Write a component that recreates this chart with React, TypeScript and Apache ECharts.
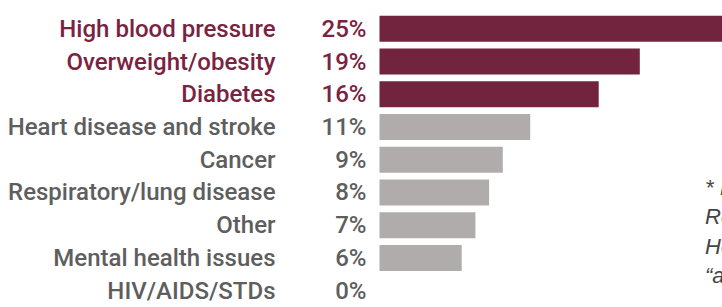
import React, { useEffect, useRef } from "react";
import * as echarts from "echarts";

const categories = [
  "High blood pressure",
  "Overweight/obesity",
  "Diabetes",
  "Heart disease and stroke",
  "Cancer",
  "Respiratory/lung disease",
  "Other",
  "Mental health issues",
  "HIV/AIDS/STDs",
];
const values = [25, 19, 16, 11, 9, 8, 7, 6, 0];
const highlightCount = 3;
const footnoteLines = ["* Includes", "Respondents", "Health", "\u201call"];

const MAROON_BAR = "#72233d";
const MAROON_TEXT = "#7a2341";
const GRAY_BAR = "#b0acab";
const GRAY_TEXT = "#5e5e5e";
const FONT = "Roboto, 'Liberation Sans', Arial, sans-serif";

export default function App() {
  const ref = useRef<HTMLDivElement>(null);
  useEffect(() => {
    if (!ref.current) return;
    const chart = echarts.init(ref.current, null, { renderer: "svg" });
    const data = values.map((v, i) => {
      const hi = i < highlightCount;
      return {
        value: v,
        itemStyle: { color: hi ? MAROON_BAR : GRAY_BAR },
        label: { color: hi ? MAROON_TEXT : GRAY_TEXT },
      };
    });
    chart.setOption({
      animation: false,
      grid: { left: 379.5, top: 12.4, width: 347, height: 299.6 },
      xAxis: { type: "value", min: 0, max: 25, show: false },
      yAxis: {
        type: "category",
        data: categories,
        inverse: true,
        axisLine: { show: false },
        axisTick: { show: false },
        axisLabel: {
          margin: 104,
          fontFamily: FONT,
          fontSize: 24,
          fontWeight: 500,
          color: (_v: string, i: number) => (i < highlightCount ? MAROON_TEXT : GRAY_TEXT),
        },
      },
      series: [
        {
          type: "bar",
          data,
          barWidth: 26,
          label: {
            show: true,
            position: "left",
            distance: 13,
            fontFamily: FONT,
            fontSize: 24,
            fontWeight: 500,
            formatter: (p: any) => `${p.value}%`,
          },
        },
      ],
      graphic: footnoteLines.map((t, i) => ({
        type: "text",
        left: 705,
        top: 176 + i * 29.5,
        style: {
          text: t,
          fill: "#444444",
          font: `italic 22px 'Liberation Sans', Arial, sans-serif`,
        },
      })),
    });
    return () => chart.dispose();
  }, []);
  return (
    <div
      ref={ref}
      style={{ position: "fixed", left: 0, top: 0, width: 722, height: 307, background: "#fff" }}
    />
  );
}
